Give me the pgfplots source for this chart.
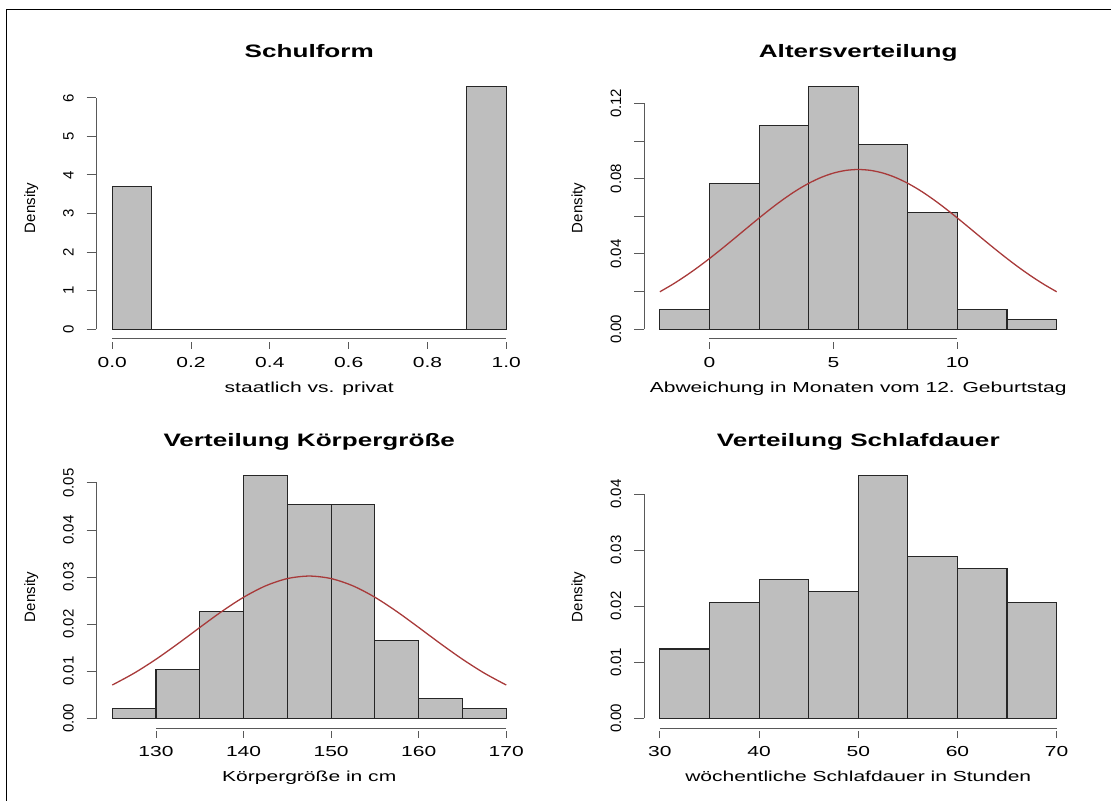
\documentclass[border=0pt]{standalone}
\usepackage{fontspec}
\setmainfont{Liberation Sans}[FakeStretch=1.45]
\newfontfamily\rotf{Liberation Sans}
\usepackage{pgfplots}
\pgfplotsset{compat=1.18}
\definecolor{rgray}{HTML}{BEBEBE}
\definecolor{rbrown}{HTML}{A83A3A}
\newcommand\lab{\fontsize{14.5bp}{17bp}\selectfont}
\newcommand\rlab{\rotf\fontsize{15bp}{18bp}\selectfont}
\newcommand\tit{\bfseries\fontsize{18bp}{21bp}\selectfont}
\tikzset{raxis/.style={black!65, line width=1bp}}
\pgfplotsset{
  rhist/.style={
    scale only axis, height=262bp, enlargelimits=false, clip=false,
    scaled x ticks=false, scaled y ticks=false,
    axis lines*=left, axis line style={draw=none},
    tick align=outside, major tick length=10bp,
    tick style={black!65, line width=1bp},
    xtick style={dash pattern=on 7bp off 10bp},
    /pgf/number format/assume math mode=true,
    xticklabel style={font=\lab, anchor=base, yshift=-18.5bp},
    yticklabel style={font=\rlab, xshift=-13bp, rotate=90, anchor=base},
    every axis title/.style={at={(axis description cs:0.5,1.0752)}, anchor=base, font=\tit},
    every axis x label/.style={at={(axis description cs:0.5,-0.2061)}, anchor=base, font=\lab},
    every axis y label/.style={at={(axis description cs:-0.144,0.5)}, rotate=90, anchor=base, font=\rlab},
    ylabel={Density},
  },
  rbar/.style={ybar interval, fill=rgray, draw=black!85, line width=1.1bp},
  rcurve/.style={rbrown, line width=1.3bp, smooth},
}
\begin{document}
\begin{tikzpicture}
\path[use as bounding box] (0bp,0bp) rectangle (1111bp,801bp);
\draw[line width=1.3bp] (6.5bp,0bp) -- (6.5bp,791.5bp) -- (1111bp,791.5bp);

% Panel 1: Schulform
\begin{axis}[rhist, at={(96.5bp,462bp)}, anchor=south west, width=425.5bp,
  xmin=-0.04, xmax=1.04, ymin=-0.25155, ymax=6.54025,
  xtick={0,0.2,0.4,0.6,0.8,1.0}, xticklabels={0.0,0.2,0.4,0.6,0.8,1.0},
  ytick={0,1,2,3,4,5,6}, yticklabels={0,1,2,3,4,5,6},
  title={Schulform}, xlabel={staatlich vs. privat}]
\addplot[rbar] coordinates {(0,3.7113) (0.1,0) (0.2,0) (0.3,0) (0.4,0) (0.5,0) (0.6,0) (0.7,0) (0.8,0) (0.9,6.2887) (1.0,0)};
\draw[raxis] (axis cs:0,-0.25155) -- (axis cs:1,-0.25155);
\draw[raxis] (axis cs:-0.04,0) -- (axis cs:-0.04,6);
\end{axis}

% Panel 2: Altersverteilung
\begin{axis}[rhist, at={(644bp,462bp)}, anchor=south west, width=428.5bp,
  xmin=-2.64, xmax=14.64, ymin=-0.0051546, ymax=0.134021,
  xtick={0,5,10}, xticklabels={0,5,10},
  ytick={0,0.02,0.04,0.06,0.08,0.10,0.12}, yticklabels={0.00,,0.04,,0.08,,0.12},
  title={Altersverteilung}, xlabel={Abweichung in Monaten vom 12. Geburtstag}]
\addplot[rbar] coordinates {(-2,0.010309) (0,0.077320) (2,0.108247) (4,0.128866) (6,0.097938) (8,0.061856) (10,0.010309) (12,0.005155) (14,0)};
\addplot[rcurve] coordinates {(-2,0.01994) (-1.5,0.02376) (-1,0.02800) (-0.5,0.03262) (0,0.03758) (0.5,0.04280) (1,0.04820) (1.5,0.05367) (2,0.05909) (2.5,0.06433) (3,0.06924) (3.5,0.07369) (4,0.07753) (4.5,0.08066) (5,0.08298) (5.5,0.08440) (6,0.08488) (6.5,0.08440) (7,0.08298) (7.5,0.08066) (8,0.07753) (8.5,0.07369) (9,0.06924) (9.5,0.06433) (10,0.05909) (10.5,0.05367) (11,0.04820) (11.5,0.04280) (12,0.03758) (12.5,0.03262) (13,0.02800) (13.5,0.02376) (14,0.01994)};
\draw[raxis] (axis cs:0,-0.0051546) -- (axis cs:10,-0.0051546);
\draw[raxis] (axis cs:-2.64,0) -- (axis cs:-2.64,0.12);
\end{axis}

% Panel 3: Koerpergroesse
\begin{axis}[rhist, at={(96.5bp,73bp)}, anchor=south west, width=425.5bp,
  xmin=123.2, xmax=171.8, ymin=-0.0020619, ymax=0.053608,
  xtick={130,140,150,160,170}, xticklabels={130,140,150,160,170},
  ytick={0,0.01,0.02,0.03,0.04,0.05}, yticklabels={0.00,0.01,0.02,0.03,0.04,0.05},
  title={Verteilung Körpergröße}, xlabel={Körpergröße in cm}]
\addplot[rbar] coordinates {(125,0.002062) (130,0.010309) (135,0.022680) (140,0.051546) (145,0.045361) (150,0.045361) (155,0.016495) (160,0.004124) (165,0.002062) (170,0)};
\addplot[rcurve] coordinates {(125,0.007070) (127.5,0.009591) (130,0.012551) (132.5,0.015846) (135,0.019302) (137.5,0.022684) (140,0.025718) (142.5,0.028131) (145,0.029686) (147.5,0.030223) (150,0.029686) (152.5,0.028131) (155,0.025718) (157.5,0.022684) (160,0.019302) (162.5,0.015846) (165,0.012551) (167.5,0.009591) (170,0.007070)};
\draw[raxis] (axis cs:130,-0.0020619) -- (axis cs:170,-0.0020619);
\draw[raxis] (axis cs:123.2,0) -- (axis cs:123.2,0.05);
\end{axis}

% Panel 4: Schlafdauer
\begin{axis}[rhist, at={(644bp,73bp)}, anchor=south west, width=428.5bp,
  xmin=28.4, xmax=71.6, ymin=-0.0017320, ymax=0.045031,
  xtick={30,40,50,60,70}, xticklabels={30,40,50,60,70},
  ytick={0,0.01,0.02,0.03,0.04}, yticklabels={0.00,0.01,0.02,0.03,0.04},
  title={Verteilung Schlafdauer}, xlabel={wöchentliche Schlafdauer in Stunden}]
\addplot[rbar] coordinates {(30,0.012371) (35,0.020619) (40,0.024742) (45,0.022680) (50,0.043299) (55,0.028866) (60,0.026804) (65,0.020619) (70,0)};
\draw[raxis] (axis cs:30,-0.0017320) -- (axis cs:70,-0.0017320);
\draw[raxis] (axis cs:28.4,0) -- (axis cs:28.4,0.04);
\end{axis}
\end{tikzpicture}
\end{document}
